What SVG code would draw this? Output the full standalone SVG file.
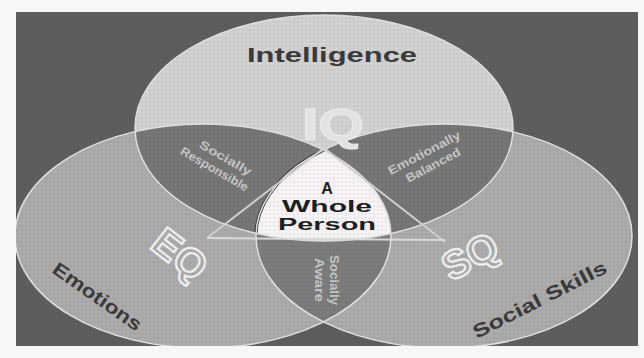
<svg xmlns="http://www.w3.org/2000/svg" width="644" height="358" viewBox="0 0 644 358">
  <style>
    .sans { font-family: "Liberation Sans", Arial, sans-serif; font-weight: bold; }
    .label { fill: #3a3a3a; }
    .big { fill: #a9a9a9; stroke: #eeeeee; stroke-width: 2.2; }
    .petal-text { fill: #c4c4c4; font-size: 12px; }
    .center-text { fill: #1e1e1e; font-size: 16px; }
    .circle-edge { fill: none; stroke: #dedede; stroke-width: 1.5; }
  </style>
  <defs>
    <clipPath id="clip-frame"><rect x="16" y="12" width="622" height="334"/></clipPath>
    <clipPath id="clip-top"><ellipse cx="324" cy="128" rx="189" ry="113"/></clipPath>
    <clipPath id="clip-left"><ellipse cx="203" cy="236" rx="188" ry="112"/></clipPath>
    <clipPath id="clip-right"><ellipse cx="444" cy="236" rx="188" ry="112"/></clipPath>
    <pattern id="dots" width="4" height="4" patternUnits="userSpaceOnUse">
      <circle cx="2" cy="2" r="0.8" fill="#000" fill-opacity="0.12"/>
    </pattern>
  </defs>

  <rect x="0" y="0" width="644" height="358" fill="#f7f7f7"/>
  <rect x="16" y="12" width="622" height="334" fill="#5e5e5e"/>

  <g clip-path="url(#clip-frame)">
    <g id="node-iq">
      <ellipse cx="324" cy="128" rx="189" ry="113" fill="#d2d2d2"/>
    </g>
    <g id="node-eq">
      <ellipse cx="203" cy="236" rx="188" ry="112" fill="#ababab"/>
    </g>
    <g id="node-sq">
      <ellipse cx="444" cy="236" rx="188" ry="112" fill="#ababab"/>
    </g>
    <g id="node-iq-eq">
      <ellipse cx="203" cy="236" rx="188" ry="112" fill="#767676" clip-path="url(#clip-top)"/>
    </g>
    <g id="node-iq-sq">
      <ellipse cx="444" cy="236" rx="188" ry="112" fill="#767676" clip-path="url(#clip-top)"/>
    </g>
    <g id="node-eq-sq">
      <ellipse cx="444" cy="236" rx="188" ry="112" fill="#7c7c7c" clip-path="url(#clip-left)"/>
    </g>
    <g id="node-whole">
      <g clip-path="url(#clip-top)">
        <ellipse cx="444" cy="236" rx="188" ry="112" fill="#f6f2f6" stroke="#2a2a2a" stroke-width="3" clip-path="url(#clip-left)"/>
      </g>
    </g>
    <rect x="16" y="12" width="622" height="334" fill="url(#dots)"/>
    <g id="circle-edges">
      <ellipse class="circle-edge" cx="324" cy="128" rx="189" ry="113"/>
      <ellipse class="circle-edge" cx="203" cy="236" rx="188" ry="112"/>
      <ellipse class="circle-edge" cx="444" cy="236" rx="188" ry="112"/>
    </g>
  </g>

  <g id="connectors" fill="none" stroke="#cfcfcf" stroke-width="2">
    <line x1="324" y1="148" x2="207" y2="238"/>
    <line x1="324" y1="148" x2="445" y2="242"/>
    <line x1="207" y1="238" x2="445" y2="240" stroke="#d8d8d8"/>
  </g>

  <g id="labels" class="sans">
    <text class="label" x="332" y="62" font-size="20" text-anchor="middle" textLength="170" lengthAdjust="spacingAndGlyphs">Intelligence</text>
    <text x="333" y="140" font-size="44" text-anchor="middle" textLength="62" lengthAdjust="spacingAndGlyphs" fill="#e2e2e2" stroke="#ececec" stroke-width="1">IQ</text>
    <text class="big" transform="translate(180,254) rotate(38)" x="0" y="14" font-size="40" text-anchor="middle">EQ</text>
    <text class="big" transform="translate(470,256) rotate(-28)" x="0" y="14" font-size="40" text-anchor="middle">SQ</text>
    <text class="label" transform="translate(97,297) rotate(35)" x="0" y="6" font-size="19" text-anchor="middle" textLength="104" lengthAdjust="spacingAndGlyphs">Emotions</text>
    <text class="label" transform="translate(540,300) rotate(-27)" x="0" y="6" font-size="19" text-anchor="middle" textLength="148" lengthAdjust="spacingAndGlyphs">Social Skills</text>
    <g transform="translate(218,163) rotate(30)">
      <text class="petal-text" x="4" y="-4" text-anchor="middle" textLength="58" lengthAdjust="spacingAndGlyphs">Socially</text>
      <text class="petal-text" x="0" y="11" text-anchor="middle" textLength="76" lengthAdjust="spacingAndGlyphs">Responsible</text>
    </g>
    <g transform="translate(428,160) rotate(-28)">
      <text class="petal-text" x="0" y="-4" text-anchor="middle" textLength="80" lengthAdjust="spacingAndGlyphs">Emotionally</text>
      <text class="petal-text" x="2" y="11" text-anchor="middle" textLength="60" lengthAdjust="spacingAndGlyphs">Balanced</text>
    </g>
    <g transform="translate(324,280) rotate(90)">
      <text class="petal-text" x="0" y="-6" text-anchor="middle" textLength="50" lengthAdjust="spacingAndGlyphs">Socially</text>
      <text class="petal-text" x="0" y="9" text-anchor="middle" textLength="44" lengthAdjust="spacingAndGlyphs">Aware</text>
    </g>
    <text class="center-text" x="327" y="194" text-anchor="middle" font-size="18">A</text>
    <text class="center-text" x="327" y="212" text-anchor="middle" textLength="90" lengthAdjust="spacingAndGlyphs">Whole</text>
    <text class="center-text" x="327" y="230" text-anchor="middle" textLength="98" lengthAdjust="spacingAndGlyphs">Person</text>
  </g>
</svg>
